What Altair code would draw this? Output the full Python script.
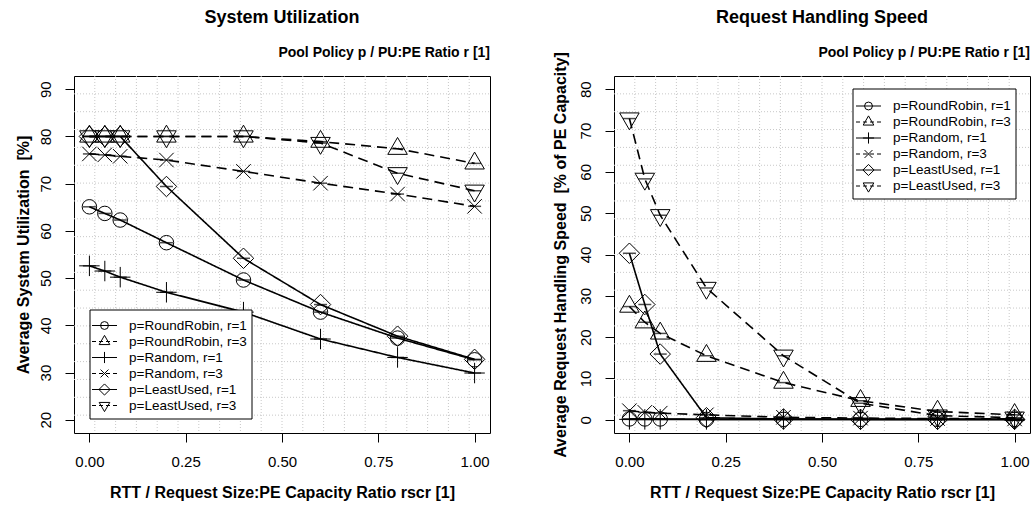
import altair as alt
import pandas as pd

# ---------------- data ----------------
x_ratio = [0.00, 0.04, 0.08, 0.20, 0.40, 0.60, 0.80, 1.00]
series = ["p=RoundRobin, r=1", "p=RoundRobin, r=3", "p=Random, r=1",
          "p=Random, r=3", "p=LeastUsed, r=1", "p=LeastUsed, r=3"]

util_rr1 = [65.1, 63.7, 62.3, 57.5, 49.6, 42.8, 37.3, 32.7]
util_rr3 = [80.0, 80.0, 80.0, 80.0, 80.0, 78.9, 77.4, 74.3]
util_rnd1 = [52.6, 51.5, 50.2, 47.0, 42.8, 37.1, 33.2, 29.9]
util_rnd3 = [76.3, 76.1, 75.8, 75.0, 72.6, 70.1, 67.8, 65.2]
util_lu1 = [80.0, 80.0, 80.0, 69.4, 54.2, 44.4, 37.7, 32.8]
util_lu3 = [80.0, 80.0, 80.0, 80.0, 80.0, 78.6, 72.2, 68.5]

speed_rr1 = [0.2, 0.2, 0.2, 0.1, 0.1, 0.1, 0.1, 0.1]
speed_rr3 = [27.4, 23.6, 20.9, 15.5, 9.0, 4.6, 2.0, 1.2]
speed_rnd1 = [0.1, 0.1, 0.1, 0.1, 0.1, 0.1, 0.1, 0.1]
speed_rnd3 = [2.2, 1.8, 1.6, 1.2, 0.6, 0.4, 0.3, 0.2]
speed_lu1 = [40.3, 27.9, 15.9, 0.5, 0.2, 0.1, 0.1, 0.1]
speed_lu3 = [72.9, 58.3, 49.5, 31.9, 15.5, 4.0, 1.0, 0.5]

x_ticks = [0.0, 0.25, 0.5, 0.75, 1.0]
util_ticks = [20, 30, 40, 50, 60, 70, 80, 90]
speed_ticks = [0, 10, 20, 30, 40, 50, 60, 70, 80]


def long_df(cols):
    rows = []
    for name, vals in zip(series, cols):
        for xv, yv in zip(x_ratio, vals):
            rows.append({"x": xv, "y": yv, "s": name})
    return pd.DataFrame(rows)


util_df = long_df([util_rr1, util_rr3, util_rnd1, util_rnd3, util_lu1, util_lu3])
speed_df = long_df([speed_rr1, speed_rr3, speed_rnd1, speed_rnd3, speed_lu1, speed_lu3])

# ---------------- styles ----------------
FONT = "Liberation Sans"
CIRCLE = "circle"
TRI_UP = "M0,-1.555L1.347,0.778L-1.347,0.778Z"
TRI_DN = "M0,1.555L1.347,-0.778L-1.347,-0.778Z"
DIAMOND = "M0,-1.414L1.414,0L0,1.414L-1.414,0Z"
PLUS = "M-1.414,0L1.414,0M0,-1.414L0,1.414"
CROSS = "M-1,-1L1,1M-1,1L1,-1"
shapes = [CIRCLE, TRI_UP, PLUS, CROSS, DIAMOND, TRI_DN]
dashes = [[1, 0], [10, 6], [1, 0], [10, 6], [1, 0], [10, 6]]
legend_dashes = [[1, 0], [4, 3], [1, 0], [4, 3], [1, 0], [4, 3]]

W = 416
H = 357
one = pd.DataFrame({"k": [0]})


def legend_layers(bx, by, bw, bh, row0, lx0, lx1, tx):
    layers = [alt.Chart(one).mark_rect(fill="white", stroke="black", strokeWidth=1).encode(
        x=alt.value(bx), x2=alt.value(bx + bw), y=alt.value(by), y2=alt.value(by + bh))]
    for i, name in enumerate(series):
        yy = row0 + 16 * i
        layers.append(alt.Chart(one).mark_rule(color="black", strokeWidth=1,
                                               strokeDash=legend_dashes[i]).encode(
            x=alt.value(lx0), x2=alt.value(lx1), y=alt.value(yy)))
        layers.append(alt.Chart(one).mark_point(filled=False, color="black", strokeWidth=1,
                                                size=62, opacity=1).encode(
            x=alt.value((lx0 + lx1) / 2), y=alt.value(yy), shape=alt.value(shapes[i])))
        layers.append(alt.Chart(one).mark_text(align="left", baseline="middle", font=FONT,
                                               fontSize=13.5, color="black").encode(
            x=alt.value(tx), y=alt.value(yy), text=alt.value(name)))
    return layers


def panel(df, ydom, yticks, ytitle, title, legend, ytitle_pad):
    xdom = [-0.04, 1.04]
    gx = [xdom[0] + k * (xdom[1] - xdom[0]) / 20 for k in range(1, 20)]
    gy = [ydom[0] + k * (ydom[1] - ydom[0]) / 20 for k in range(1, 20)]
    xs = alt.Scale(domain=xdom, nice=False, zero=False)
    ys = alt.Scale(domain=ydom, nice=False, zero=False)
    xaxis = alt.Axis(values=x_ticks, format=".2f", grid=False, domain=False, tickSize=9,
                     tickColor="black", labelPadding=12, labelFontSize=15, labelFont=FONT,
                     labelColor="black", title="RTT / Request Size:PE Capacity Ratio rscr [1]",
                     titleFont=FONT, titleFontSize=16, titleFontWeight="bold",
                     titleColor="black", titlePadding=15)
    yaxis = alt.Axis(values=yticks, grid=False, domain=False, tickSize=9, tickColor="black",
                     labelAngle=270, labelAlign="center", labelBaseline="bottom",
                     labelPadding=12, labelFontSize=15, labelFont=FONT, labelColor="black",
                     title=ytitle, titleFont=FONT, titleFontSize=16, titleFontWeight="bold",
                     titleColor="black", titlePadding=ytitle_pad)

    gridx = alt.Chart(pd.DataFrame({"g": gx})).mark_rule(
        color="#c8c8c8", strokeWidth=1, strokeDash=[1, 2]).encode(
        x=alt.X("g:Q", scale=xs, axis=xaxis), y=alt.value(0), y2=alt.value(H))
    gridy = alt.Chart(pd.DataFrame({"g": gy})).mark_rule(
        color="#c8c8c8", strokeWidth=1, strokeDash=[1, 2]).encode(
        y=alt.Y("g:Q", scale=ys, axis=yaxis), x=alt.value(0), x2=alt.value(W))

    enc_x = alt.X("x:Q", scale=xs, axis=xaxis)
    enc_y = alt.Y("y:Q", scale=ys, axis=yaxis)
    base = alt.Chart(df)
    lines = base.mark_line(color="black", strokeWidth=1.6).encode(
        x=enc_x, y=enc_y, detail="s:N",
        strokeDash=alt.StrokeDash("s:N", scale=alt.Scale(domain=series, range=dashes), legend=None))
    pts = base.mark_point(filled=False, color="black", strokeWidth=1, size=210, opacity=1).encode(
        x=enc_x, y=enc_y,
        shape=alt.Shape("s:N", scale=alt.Scale(domain=series, range=shapes), legend=None))
    caps = base.mark_tick(orient="horizontal", color="black", size=13, thickness=1.5).encode(
        x=enc_x, y=enc_y)

    t1 = alt.Chart(one).mark_text(align="center", baseline="middle", font=FONT, fontSize=18,
                                  fontWeight="bold", color="black").encode(
        x=alt.value(W / 2), y=alt.value(-58), text=alt.value(title))
    t2 = alt.Chart(one).mark_text(align="right", baseline="middle", font=FONT, fontSize=14,
                                  fontWeight="bold", color="black").encode(
        x=alt.value(W), y=alt.value(-23), text=alt.value("Pool Policy p / PU:PE Ratio r [1]"))

    return alt.layer(gridx, gridy, lines, caps, pts, *legend, t1, t2).properties(width=W, height=H)


left = panel(util_df, [17.2, 92.8], util_ticks, "Average System Utilization\u00a0 [%]",
             "System Utilization", legend_layers(16, 234, 162, 109, 249.5, 18, 43, 55), 7)
right = panel(speed_df, [-3.2, 83.2], speed_ticks,
              "Average Request Handling Speed\u00a0 [% of PE Capacity]",
              "Request Handling Speed", legend_layers(239, 13, 163, 110, 30, 242, 267, 279), 10)

chart = alt.hconcat(left, right, spacing=60).properties(
    padding={"left": 14, "top": 8, "right": 0, "bottom": 0},
    background="white",
).configure_view(stroke="black", strokeWidth=1)

chart.save("out.html", embed_options={"renderer": "svg", "actions": False})
